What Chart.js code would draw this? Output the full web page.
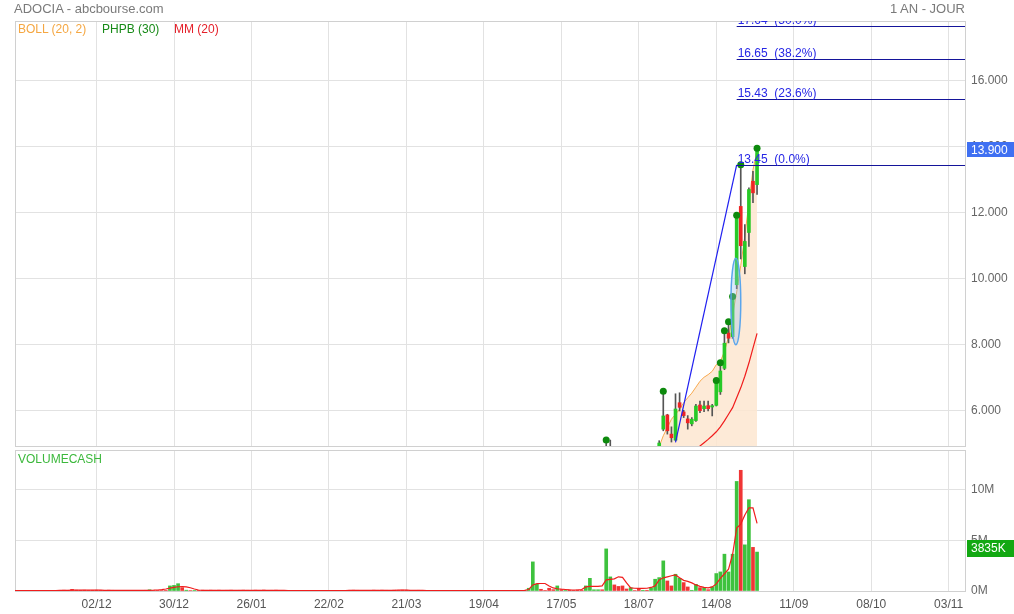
<!DOCTYPE html>
<html>
<head>
<meta charset="utf-8">
<script src="https://cdn.jsdelivr.net/npm/chart.js@4.4.1/dist/chart.umd.min.js"></script>
<style>
    body { margin: 0; background: #fff; width: 1014px; height: 614px; overflow: hidden; position: relative; font-family: "Liberation Sans", Arial, sans-serif; }
    canvas { position: absolute; left: 0; }
    #chartPrix { top: 0; }
    #chartVolume { top: 446px; }
    .txt { position: absolute; font-size: 12px; line-height: 14px; white-space: nowrap; }
</style>
</head>
<body>
<canvas id="chartPrix" width="1014" height="450"></canvas>
<canvas id="chartVolume" width="1014" height="168"></canvas>

<div class="txt" style="left:14px;top:2px;font-size:13px;color:#7a7a7a">ADOCIA - abcbourse.com</div>
<div class="txt" style="right:49px;top:2px;font-size:13px;color:#7a7a7a">1 AN - JOUR</div>
<div class="txt" style="left:18px;top:22px;color:#f5a742">BOLL (20, 2)</div>
<div class="txt" style="left:102px;top:22px;color:#178a17">PHPB (30)</div>
<div class="txt" style="left:174px;top:22px;color:#e5202a">MM (20)</div>
<div class="txt" style="left:18px;top:452px;color:#3cb83c">VOLUMECASH</div>

<script>
// ----------------- Données ( séances, une par index ) -------------------------//
const tickPos = [20, 39, 58, 77, 96, 115, 134, 153, 172, 191, 210, 229];
const tickLabels = ['02/12', '30/12', '26/01', '22/02', '21/03', '19/04', '17/05', '18/07', '14/08', '11/09', '08/10', '03/11'];
const nbSlots = 233;

// bougies à partir de la séance 145 (avant, tout est sous 4.94)
const firstCandle = 145;
const opens  = [4.70, 4.85, 4.80, 4.65, 4.55, 4.50, 4.55, 4.58, 4.55, 4.50,
                4.52, 4.50, 4.58, 4.75, 5.45, 5.88, 5.30, 5.12, 6.25, 5.97,
                5.76, 5.61, 5.71, 6.18, 6.07, 6.16, 6.12, 6.17, 6.58, 7.29,
                8.36, 8.25, 9.82, 12.19, 10.37, 11.40, 12.95, 12.85];
const highs  = [5.12, 5.12, 4.85, 4.70, 4.60, 4.60, 4.60, 4.60, 4.58, 4.55,
                4.55, 4.60, 4.80, 5.10, 6.60, 5.90, 5.52, 6.52, 6.55, 6.02,
                5.86, 5.80, 6.20, 6.30, 6.30, 6.30, 6.20, 6.92, 7.46, 8.43,
                8.70, 9.46, 11.92, 13.45, 11.64, 12.75, 13.25, 13.95];
const lows   = [4.60, 4.70, 4.60, 4.50, 4.45, 4.45, 4.50, 4.50, 4.45, 4.48,
                4.45, 4.48, 4.55, 4.70, 5.40, 5.30, 5.06, 5.10, 6.00, 5.80,
                5.45, 5.55, 5.68, 5.95, 5.98, 6.00, 5.85, 6.15, 6.50, 7.25,
                8.06, 8.20, 9.70, 10.60, 10.15, 10.98, 12.30, 12.55];
const closes = [4.85, 4.80, 4.65, 4.55, 4.50, 4.55, 4.58, 4.55, 4.50, 4.52,
                4.50, 4.58, 4.75, 5.03, 5.85, 5.40, 5.19, 6.06, 6.11, 5.86,
                5.64, 5.75, 6.15, 6.01, 6.15, 6.07, 6.16, 6.84, 7.21, 8.05,
                8.20, 9.40, 11.90, 11.00, 11.13, 12.70, 12.60, 13.90];

// BOLL (20, 2) bande haute, à partir de la séance 157
const bollStart = 157;
const bollHaut = [4.60, 4.92, 5.25, 5.50, 5.75, 5.90, 6.05, 6.25, 6.40, 6.54,
                  6.72, 6.90, 7.02, 7.10, 7.20, 7.40, 7.50, 7.80, 8.25, 8.90,
                  9.60, 10.40, 11.30, 12.30, 13.30, 13.85];
// MM (20), à partir de la séance 166
const mmStart = 166;
const mm20 = [4.75, 4.85, 4.94, 5.04, 5.14, 5.25, 5.37, 5.52, 5.70, 5.90,
              6.10, 6.40, 6.70, 7.05, 7.45, 7.90, 8.35];
// PHPB (30) : séances marquées d'un point sur le plus haut
const phpbDays = [145, 159, 172, 173, 174, 175, 176, 177, 178, 182];

// tracés manuels : oblique, retracements de Fibonacci, ellipse
const swingLow = { x: 162, y: 5.05 };
const swingHigh = { x: 177, y: 13.45 };
const fibNiveaux = [13.45, 15.43, 16.65, 17.64];
const fibPct = ['0.0%', '23.6%', '38.2%', '50.0%'];
const ellipse = { x: 176.8, y: 9.31, rx: 1.2, ry: 1.31 };

// volumes en millions, séances 0 à 182
const volumes = [
    0.06, 0.05, 0.04, 0.05, 0.06, 0.05, 0.04, 0.05, 0.06, 0.05,
    0.05, 0.06, 0.08, 0.07, 0.16, 0.08, 0.07, 0.08, 0.06, 0.07,
    0.08, 0.07, 0.06, 0.08, 0.07, 0.05, 0.06, 0.05, 0.04, 0.05,
    0.06, 0.05, 0.07, 0.12, 0.05, 0.06, 0.05, 0.06, 0.50, 0.55,
    0.72, 0.33, 0.08, 0.05, 0.06, 0.07, 0.08, 0.07, 0.08, 0.07,
    0.08, 0.06, 0.07, 0.08, 0.06, 0.07, 0.08, 0.07, 0.06, 0.08,
    0.07, 0.09, 0.06, 0.07, 0.08, 0.06, 0.05, 0.05, 0.04, 0.05,
    0.04, 0.05, 0.04, 0.05, 0.04, 0.05, 0.04, 0.05, 0.04, 0.05,
    0.04, 0.06, 0.07, 0.08, 0.07, 0.06, 0.05, 0.06, 0.08, 0.07,
    0.08, 0.07, 0.06, 0.08, 0.07, 0.09, 0.08, 0.06, 0.05, 0.07,
    0.04, 0.05, 0.04, 0.04, 0.05, 0.04, 0.04, 0.05, 0.04, 0.04,
    0.05, 0.04, 0.04, 0.05, 0.04, 0.04, 0.05, 0.04, 0.04, 0.05,
    0.04, 0.04, 0.05, 0.05, 0.03, 0.04, 0.27, 2.87, 0.66, 0.17,
    0.04, 0.27, 0.13, 0.50, 0.13, 0.06, 0.10, 0.06, 0.10, 0.08,
    0.50, 1.25, 0.12, 0.12, 0.12, 4.15, 1.39, 0.60, 0.45, 0.50,
    0.20, 0.33, 0.05, 0.23, 0.07, 0.07, 0.33, 1.16, 1.32, 2.97,
    0.99, 0.50, 1.65, 1.25, 0.83, 0.40, 0.07, 0.66, 0.33, 0.33,
    0.13, 0.40, 1.72, 1.88, 3.63, 1.88, 3.63, 10.80, 11.90, 4.55,
    9.00, 4.30, 3.835
];
// 1 = volume en hausse (vert), 0 = en baisse (rouge)
const volHausse = [
    0, 0, 0, 0, 0, 0, 0, 0, 0, 0,
    0, 0, 0, 0, 0, 0, 0, 0, 0, 0,
    0, 0, 0, 0, 0, 0, 0, 0, 0, 0,
    0, 0, 0, 1, 0, 0, 0, 0, 1, 1,
    1, 0, 1, 0, 1, 0, 0, 0, 0, 0,
    0, 0, 0, 0, 0, 0, 0, 0, 0, 0,
    0, 0, 0, 0, 0, 0, 0, 0, 0, 0,
    0, 0, 0, 0, 0, 0, 0, 0, 0, 0,
    0, 0, 0, 0, 0, 0, 0, 0, 0, 0,
    0, 0, 0, 0, 0, 0, 0, 0, 0, 0,
    0, 0, 0, 0, 0, 0, 0, 0, 0, 0,
    0, 0, 0, 0, 0, 0, 0, 0, 0, 0,
    0, 0, 0, 1, 0, 1, 1, 1, 1, 0,
    0, 0, 0, 1, 0, 1, 0, 0, 0, 0,
    1, 1, 1, 1, 0, 1, 1, 0, 0, 0,
    0, 1, 0, 0, 1, 0, 1, 1, 1, 1,
    0, 0, 1, 1, 0, 0, 1, 1, 0, 1,
    0, 1, 1, 1, 1, 1, 1, 1, 0, 1,
    1, 0, 1
];
// moyenne des volumes (courbe rouge)
const volMoyenne = [
    0.04, 0.05, 0.05, 0.05, 0.05, 0.05, 0.05, 0.05, 0.05, 0.05,
    0.05, 0.06, 0.06, 0.07, 0.08, 0.08, 0.08, 0.08, 0.08, 0.08,
    0.08, 0.08, 0.07, 0.07, 0.07, 0.07, 0.06, 0.06, 0.06, 0.06,
    0.06, 0.06, 0.06, 0.07, 0.08, 0.10, 0.14, 0.20, 0.28, 0.36,
    0.42, 0.43, 0.40, 0.32, 0.20, 0.10, 0.07, 0.07, 0.07, 0.07,
    0.07, 0.07, 0.07, 0.07, 0.07, 0.07, 0.07, 0.07, 0.07, 0.07,
    0.07, 0.07, 0.07, 0.07, 0.07, 0.06, 0.06, 0.05, 0.05, 0.05,
    0.05, 0.05, 0.05, 0.04, 0.04, 0.04, 0.05, 0.05, 0.05, 0.05,
    0.05, 0.05, 0.06, 0.06, 0.07, 0.07, 0.07, 0.07, 0.07, 0.07,
    0.07, 0.07, 0.07, 0.07, 0.08, 0.08, 0.08, 0.07, 0.07, 0.06,
    0.06, 0.05, 0.05, 0.05, 0.04, 0.04, 0.04, 0.04, 0.04, 0.04,
    0.04, 0.04, 0.04, 0.04, 0.04, 0.04, 0.04, 0.04, 0.04, 0.04,
    0.04, 0.04, 0.04, 0.05, 0.05, 0.06, 0.15, 0.60, 0.72, 0.74,
    0.74, 0.50, 0.30, 0.22, 0.18, 0.15, 0.12, 0.10, 0.10, 0.15,
    0.40, 0.45, 0.45, 0.45, 0.50, 1.10, 1.15, 1.20, 1.40, 1.35,
    0.80, 0.30, 0.27, 0.26, 0.25, 0.27, 0.35, 0.50, 1.10, 1.30,
    1.40, 1.50, 1.58, 1.30, 1.05, 0.95, 0.80, 0.60, 0.45, 0.35,
    0.30, 0.40, 0.70, 1.25, 1.70, 2.15, 3.60, 6.20, 6.60, 7.50,
    8.20, 8.20, 6.66
];

// ----------------- Réglages communs -------------------------//
Chart.defaults.font.family = '"Liberation Sans", Arial, sans-serif';
Chart.defaults.font.size = 12;
Chart.defaults.color = '#666';

const VERT = '#3ec23e';
const ROUGE = '#f03535';
const GRILLE = '#e2e2e2';

let points = function (arr, start) {
    return arr.map((v, i) => ({ x: start + i, y: v }));
};

// pas de marge automatique autour des axes
let sansMarge = function (s) {
    s.paddingTop = 0;
    s.paddingBottom = 0;
    s.paddingLeft = 0;
    s.paddingRight = 0;
};

let axeX = function (avecLabels) {
    return {
        type: 'linear',
        offset: false,
        min: 0,
        max: nbSlots,
        afterBuildTicks: s => { s.ticks = tickPos.map(v => ({ value: v })); },
        afterFit: s => { s.height = avecLabels ? 23 : 0; sansMarge(s); },
        grid: { color: GRILLE, drawTicks: false, offset: false },
        border: { display: false },
        ticks: {
            display: avecLabels,
            padding: 6,
            color: '#555',
            maxRotation: 0,
            autoSkip: false,
            callback: v => { const k = tickPos.indexOf(v); return k < 0 ? '' : tickLabels[k]; }
        }
    };
};

// cadre gris autour de la zone du graphique
const cadre = {
    id: 'cadre',
    beforeDatasetsDraw(chart) {
        const a = chart.chartArea, ctx = chart.ctx;
        ctx.save();
        ctx.strokeStyle = '#d0d0d0';
        ctx.lineWidth = 1;
        ctx.strokeRect(Math.round(a.left) + 0.5, Math.round(a.top) + 0.5, Math.round(a.right - a.left), Math.round(a.bottom - a.top));
        ctx.restore();
    }
};

// étiquette de dernière valeur sur l'axe de droite
let etiquette = function (valeur, texte, couleur, hauteur, decalage) {
    return {
        id: 'etiquette',
        afterDraw(chart) {
            const ctx = chart.ctx, a = chart.chartArea;
            const py = chart.scales.y.getPixelForValue(valeur) + decalage;
            ctx.save();
            ctx.fillStyle = couleur;
            ctx.fillRect(a.right + 2, Math.round(py - hauteur / 2), chart.width - a.right - 2, hauteur);
            ctx.fillStyle = '#fff';
            ctx.font = '12px "Liberation Sans", Arial';
            ctx.textBaseline = 'middle';
            ctx.fillText(texte, a.right + 6, py + 0.5);
            ctx.restore();
        }
    };
};

// oblique, niveaux de Fibonacci et ellipse
const dessins = {
    id: 'dessins',
    afterDatasetsDraw(chart) {
        const { ctx, chartArea: a } = chart;
        const x = chart.scales.x, y = chart.scales.y;
        ctx.save();
        ctx.beginPath();
        ctx.rect(a.left, a.top, a.right - a.left, a.bottom - a.top);
        ctx.clip();

        // ellipse
        const ex = x.getPixelForValue(ellipse.x), ey = y.getPixelForValue(ellipse.y);
        const erx = x.getPixelForValue(ellipse.x + ellipse.rx) - ex;
        const ery = ey - y.getPixelForValue(ellipse.y + ellipse.ry);
        ctx.beginPath();
        ctx.ellipse(ex, ey, erx, ery, 0, 0, 2 * Math.PI);
        ctx.fillStyle = 'rgba(150,195,240,0.35)';
        ctx.fill();
        ctx.strokeStyle = '#5aa5ec';
        ctx.lineWidth = 1.5;
        ctx.stroke();

        // oblique
        ctx.beginPath();
        ctx.moveTo(x.getPixelForValue(swingLow.x), y.getPixelForValue(swingLow.y));
        ctx.lineTo(x.getPixelForValue(swingHigh.x), y.getPixelForValue(swingHigh.y));
        ctx.strokeStyle = '#1f1ff0';
        ctx.lineWidth = 1.2;
        ctx.stroke();

        // retracements
        const x0 = x.getPixelForValue(swingHigh.x);
        ctx.font = '12px "Liberation Sans", Arial';
        fibNiveaux.forEach((niv, i) => {
            const py = Math.round(y.getPixelForValue(niv)) + 0.5;
            ctx.beginPath();
            ctx.moveTo(x0, py);
            ctx.lineTo(a.right, py);
            ctx.strokeStyle = '#14149a';
            ctx.lineWidth = 1;
            ctx.stroke();
            ctx.fillStyle = '#2626e6';
            ctx.fillText(niv.toFixed(2) + '  (' + fibPct[i] + ')', x0 + 1, py - 3);
        });
        ctx.restore();
    }
};

// ----------------- Graphique des cours -------------------------//
let candleIdx = opens.map((o, i) => firstCandle + i);
let corps = candleIdx.map((d, i) => ({ x: d, y: [opens[i], closes[i]] }));
let meches = candleIdx.map((d, i) => ({ x: d, y: [lows[i], highs[i]] }));
let couleurCorps = opens.map((o, i) => closes[i] >= o ? '#27c927' : '#ee2424');

new Chart(document.getElementById('chartPrix').getContext('2d'), {
    type: 'bar',
    data: {
        datasets: [
            {
                type: 'line', label: 'BOLL', order: 6,
                data: points(bollHaut, bollStart),
                borderColor: '#f7a84e', borderWidth: 1, pointRadius: 0, tension: 0,
                fill: 'start', backgroundColor: 'rgba(253,230,208,0.85)'
            },
            {
                type: 'line', label: 'MM', order: 5,
                data: points(mm20, mmStart),
                borderColor: '#f01c1c', borderWidth: 1.2, pointRadius: 0, tension: 0, fill: false
            },
            {
                label: 'meches', order: 4, grouped: false,
                data: meches, backgroundColor: '#555', barThickness: 1
            },
            {
                label: 'corps', order: 3, grouped: false,
                data: corps, backgroundColor: couleurCorps, barThickness: 3
            },
            {
                type: 'line', label: 'PHPB', order: 2, showLine: false,
                data: phpbDays.map(d => ({ x: d, y: highs[d - firstCandle] })),
                pointRadius: 3.5, pointBackgroundColor: '#0d8a0d', pointBorderWidth: 0
            }
        ]
    },
    options: {
        responsive: false,
        animation: false,
        events: [],
        layout: { padding: { left: 15, top: 21, right: 0, bottom: 4 } },
        plugins: { legend: { display: false }, tooltip: { enabled: false } },
        scales: {
            x: axeX(false),
            y: {
                position: 'right',
                min: 4.94,
                max: 17.8,
                afterBuildTicks: s => { s.ticks = [6, 8, 10, 12, 14, 16].map(v => ({ value: v })); },
                afterFit: s => { s.width = 49; sansMarge(s); },
                grid: { color: GRILLE, drawTicks: false },
                border: { display: false },
                ticks: { padding: 6, color: '#666', callback: v => v.toFixed(3) }
            }
        }
    },
    plugins: [cadre, dessins, etiquette(closes[closes.length - 1], closes[closes.length - 1].toFixed(3), '#3f70f2', 15, 0)]
});

// ----------------- Graphique des volumes -------------------------//
let dernierVol = volumes[volumes.length - 1];

new Chart(document.getElementById('chartVolume').getContext('2d'), {
    type: 'bar',
    data: {
        datasets: [
            {
                label: 'VOLUMECASH', order: 2,
                data: points(volumes, 0),
                backgroundColor: volHausse.map(h => h ? VERT : ROUGE),
                barThickness: 3
            },
            {
                type: 'line', label: 'Moyenne', order: 1,
                data: points(volMoyenne, 0),
                borderColor: '#f01c1c', borderWidth: 1.2, pointRadius: 0, tension: 0, fill: false
            }
        ]
    },
    options: {
        responsive: false,
        animation: false,
        events: [],
        layout: { padding: { left: 15, top: 4, right: 0, bottom: 0 } },
        plugins: { legend: { display: false }, tooltip: { enabled: false } },
        scales: {
            x: axeX(true),
            y: {
                position: 'right',
                min: 0,
                max: 13.9,
                afterBuildTicks: s => { s.ticks = [0, 5, 10].map(v => ({ value: v })); },
                afterFit: s => { s.width = 49; sansMarge(s); },
                grid: { color: GRILLE, drawTicks: false },
                border: { display: false },
                ticks: { padding: 6, color: '#666', callback: v => v + 'M' }
            }
        }
    },
    plugins: [cadre, etiquette(dernierVol, Math.round(dernierVol * 1000) + 'K', '#12a812', 17, -4)]
});
</script>
</body>
</html>
